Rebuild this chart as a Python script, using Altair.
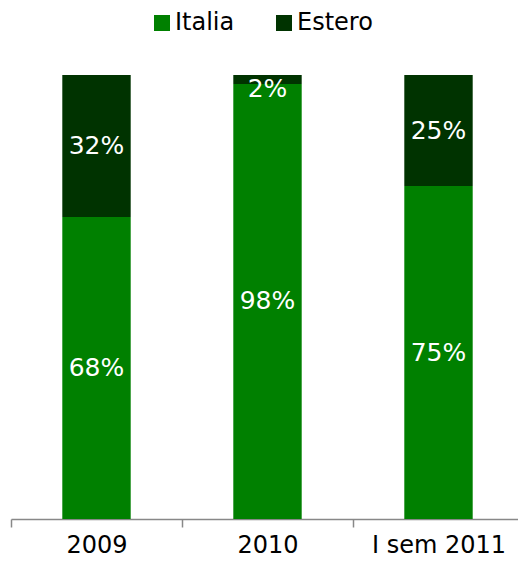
import altair as alt
import pandas as pd

categories = ["2009", "2010", "I sem 2011"]
italia = [0.68, 0.98, 0.75]
estero = [0.32, 0.02, 0.25]
series = ["Italia", "Estero"]
colors = ["#008000", "#003300"]

rows = []
for c, i, e in zip(categories, italia, estero):
    rows.append({"cat": c, "serie": "Italia", "val": i, "ord": 0})
    rows.append({"cat": c, "serie": "Estero", "val": e, "ord": 1})
df = pd.DataFrame(rows)

font = "DejaVu Sans"

base = alt.Chart(df).transform_stack(
    stack="val", groupby=["cat"], as_=["v0", "v1"], sort=[alt.SortField("ord")]
).transform_calculate(
    mid="min((datum.v0 + datum.v1) / 2, 0.968)",
    lab="round(datum.val * 100) + '%'",
)

xscale = alt.Scale(paddingInner=0, paddingOuter=0, range=[0, 513])

x = alt.X("cat:N", sort=categories, title=None, scale=xscale,
          axis=alt.Axis(labelAngle=0, labelFont=font, labelFontSize=24, labelColor="#000000",
                        labelPadding=6, domainColor="#888888", tickColor="#888888",
                        tickSize=8, tickBand="extent", domainWidth=1.5, tickWidth=1.5))

bars = base.mark_bar(stroke=None, width=alt.RelativeBandSize(0.4)).encode(
    x=x,
    y=alt.Y("v0:Q", scale=alt.Scale(domain=[0, 1]), axis=None),
    y2="v1:Q",
    color=alt.Color("serie:N", sort=series,
                    scale=alt.Scale(domain=series, range=colors),
                    legend=alt.Legend(title=None, orient="none", direction="horizontal",
                                      legendX=139, legendY=-64, symbolType="square",
                                      symbolSize=256, symbolStrokeWidth=0, symbolOpacity=1,
                                      labelFont=font, labelFontSize=24, labelColor="#000000",
                                      labelOffset=1, columnPadding=37)),
)

texts = base.mark_text(color="white", font=font, fontSize=25, baseline="middle").encode(
    x=alt.X("cat:N", sort=categories, scale=xscale),
    y=alt.Y("mid:Q", scale=alt.Scale(domain=[0, 1])),
    text="lab:N",
)

chart = alt.layer(bars, texts).properties(
    width=507, height=444,
    autosize=alt.AutoSizeParams(type="none"),
    padding={"left": 3, "top": 67, "right": 0, "bottom": 40},
).configure_view(stroke=None)

chart.save("out.html", embed_options={"renderer": "svg", "actions": False})
